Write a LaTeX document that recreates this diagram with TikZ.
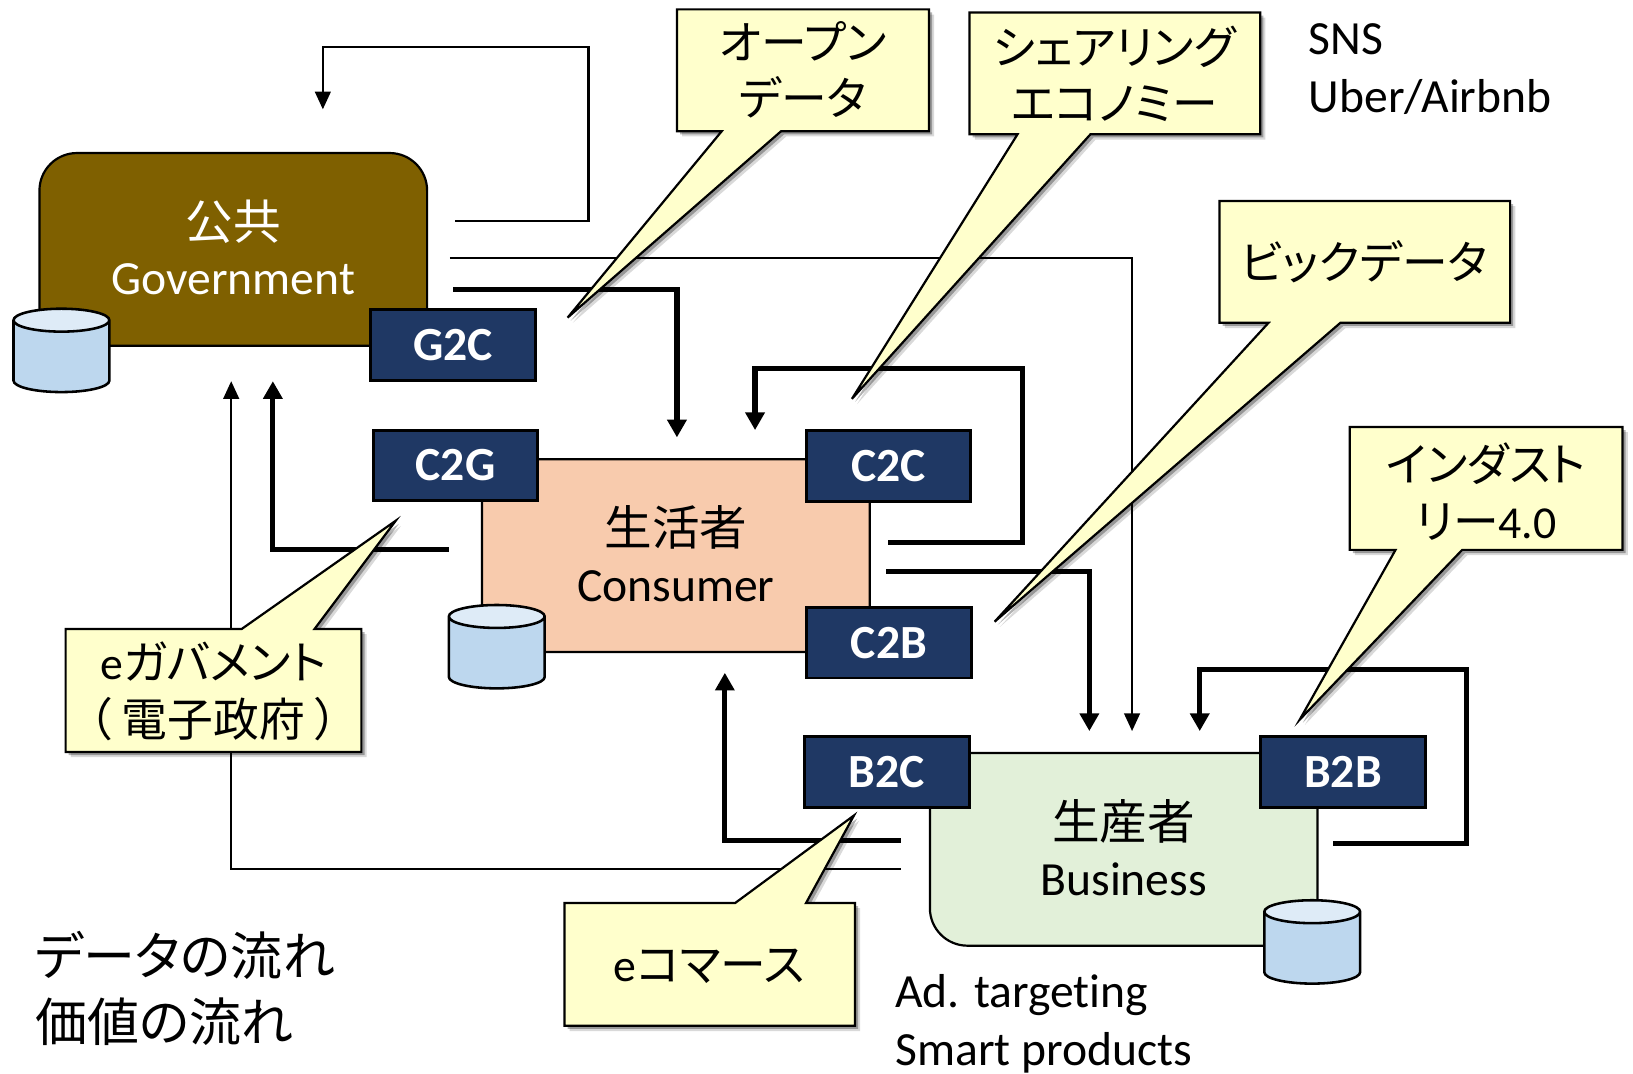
\documentclass[tikz,border=0pt]{standalone}
\usepackage{fontspec}
\setmainfont[RawFeature=-liga]{Carlito}
\newfontfamily\jpfont[RawFeature=+palt]{Noto Sans CJK JP}
\newfontfamily\jpwide{Noto Sans CJK JP}
\usepackage{tikz}
\usetikzlibrary{arrows.meta,shadows,shapes.geometric}

\definecolor{govfill}{HTML}{7F6000}
\definecolor{tagfill}{HTML}{1F3864}
\definecolor{consumerfill}{HTML}{F8CBAD}
\definecolor{businessfill}{HTML}{E2F0D9}
\definecolor{cylbody}{HTML}{BDD7EE}
\definecolor{cyltop}{HTML}{DEEBF7}
\definecolor{notefill}{HTML}{FFFFCC}

\begin{document}
\begin{tikzpicture}[x=0.01cm,y=-0.01cm,
                    actor/.style={rectangle,draw,line width=0.6pt,rounded corners=0.36cm,inner sep=0pt,
                      minimum width=3.72cm,minimum height=1.85cm,align=center,text depth=0.04cm,
                      font=\fontsize{13}{15.2}\selectfont},
                    tag/.style={rectangle,draw,line width=0.8pt,fill=tagfill,text=white,inner sep=0pt,
                      minimum width=1.58cm,minimum height=0.68cm,font=\fontsize{13}{15.7}\selectfont\bfseries},
                    store/.style={cylinder,shape border rotate=90,aspect=1.1,draw,line width=0.7pt,inner sep=0.1cm,
                      minimum width=0.92cm,minimum height=0.8cm,cylinder uses custom fill,
                      cylinder body fill=cylbody,cylinder end fill=cyltop},
                    thinflow/.style={line width=0.65pt,-{Triangle[length=0.17cm,width=0.15cm]}},
                    thickflow/.style={line width=1.4pt,-{Triangle[length=0.17cm,width=0.18cm]}},
                    note/.style={draw,line width=0.6pt,fill=notefill,line join=miter,
                      drop shadow={shadow xshift=0.05cm,shadow yshift=-0.05cm,fill=black,opacity=0.15},
                      drop shadow={shadow xshift=0.03cm,shadow yshift=-0.03cm,fill=black,opacity=0.3}},
                    notetext/.style={align=center,inner sep=0pt,font=\fontsize{12.5}{15.4}\selectfont\jpfont},
                    plain/.style={anchor=west,align=left,inner sep=0pt,font=\fontsize{13}{15.7}\selectfont}]
  \useasboundingbox (0,0) rectangle (1568,1031);

  % Actors
  \node[actor,fill=govfill,text=white] (gov) at (224,239.5) {{\jpfont 公共}\\Government};
  \node[store] (govdb) at (59,346) {};
  \node[tag] (g2c) at (435,331) {G2C};

  \node[actor,fill=consumerfill] (consumer) at (649,533.5) {{\jpfont 生活者}\\Consumer};
  \node[store] (consumerdb) at (477,630.5) {};
  \node[tag] (c2g) at (437.5,447) {C2G};
  \node[tag] (c2c) at (853,447.5) {C2C};
  \node[tag] (c2b) at (853.5,617) {C2B};

  \node[actor,fill=businessfill] (business) at (1079,815.5) {{\jpfont 生産者}\\Business};
  \node[store] (businessdb) at (1260,914) {};
  \node[tag] (b2c) at (851.5,741) {B2C};
  \node[tag] (b2b) at (1289.5,741) {B2B};

  % Flow ends and corners
  \coordinate (govselfa) at (437,212);
  \coordinate (govselfb) at (565,45);
  \coordinate (govselfc) at (310,105);
  \coordinate (govbusa) at (432,247.5);
  \coordinate (govbusb) at (1087,702);
  \coordinate (govcona) at (435,278);
  \coordinate (govconb) at (650,420);
  \coordinate (conselfa) at (853,521);
  \coordinate (conselfb) at (982,354);
  \coordinate (conselfc) at (725,413);
  \coordinate (conbusa) at (851,549);
  \coordinate (conbusb) at (1046,702);
  \coordinate (congova) at (431,527.5);
  \coordinate (congovb) at (262,366);
  \coordinate (busgova) at (865,834.5);
  \coordinate (busgovb) at (222,366);
  \coordinate (busconb) at (696,646);
  \coordinate (buscona) at (865,807);
  \coordinate (busselfa) at (1280,810);
  \coordinate (busselfb) at (1408,643);
  \coordinate (busselfc) at (1152,702);

  % Flows
  \draw[thinflow] (govselfa) -| (govselfb) -| (govselfc);
  \draw[thinflow] (govbusa) -| (govbusb);
  \draw[thickflow] (govcona) -| (govconb);
  \draw[thickflow] (conselfa) -| (conselfb) -| (conselfc);
  \draw[thickflow] (conbusa) -| (conbusb);
  \draw[thickflow] (congova) -| (congovb);
  \draw[thinflow] (busgova) -| (busgovb);
  \draw[thickflow] (buscona) -| (busconb);
  \draw[thickflow] (busselfa) -| (busselfb) -| (busselfc);

  % Notes
  \draw[note] (650,9) -- (892,9) -- (892,126) -- (750,126) -- (545,305) -- (693,126) -- (650,126) -- cycle;
  \node[notetext] (opendata) at (771,67) {オープン\\データ};

  \draw[note] (931,12) -- (1210,12) -- (1210,129) -- (1047,129) -- (818,383) -- (977,129) -- (931,129) -- cycle;
  \node[notetext] (sharing) at (1070,71) {シェアリング\\エコノミー};

  \draw[note] (1171,193) -- (1450,193) -- (1450,310) -- (1287,310) -- (955,597) -- (1218,310) -- (1171,310) -- cycle;
  \node[notetext] (bigdata) at (1310,251) {ビックデータ};

  \draw[note] (1296,410) -- (1558,410) -- (1558,528) -- (1404,528) -- (1248,691) -- (1340,528) -- (1296,528) -- cycle;
  \node[notetext] (industry) at (1427,472) {インダスト\\リー{\rmfamily 4.0}};

  \draw[note] (63,604) -- (232,604) -- (380,500) -- (302,604) -- (347,604) -- (347,722) -- (63,722) -- cycle;
  \node[notetext] (egov) at (205,664) {{\rmfamily e}ガバメント\\{\jpwide （\hspace{0.08cm}電子政府\hspace{0.08cm}）}};

  \draw[note] (542,867) -- (706,867) -- (820,783) -- (774,867) -- (821,867) -- (821,985) -- (542,985) -- cycle;
  \node[notetext] (ecommerce) at (681,928) {{\rmfamily e}コマース};

  % Free texts
  \node[plain] (c2ctext) at (1256,66.5) {SNS\\Uber/Airbnb};
  \node[plain] (b2ctext) at (859,983) {Ad. targeting\\Smart products};
  \node[plain,font=\fontsize{14.2}{18.2}\selectfont\jpfont] (legend) at (33,949) {データの流れ\\価値の流れ};
\end{tikzpicture}
\end{document}
